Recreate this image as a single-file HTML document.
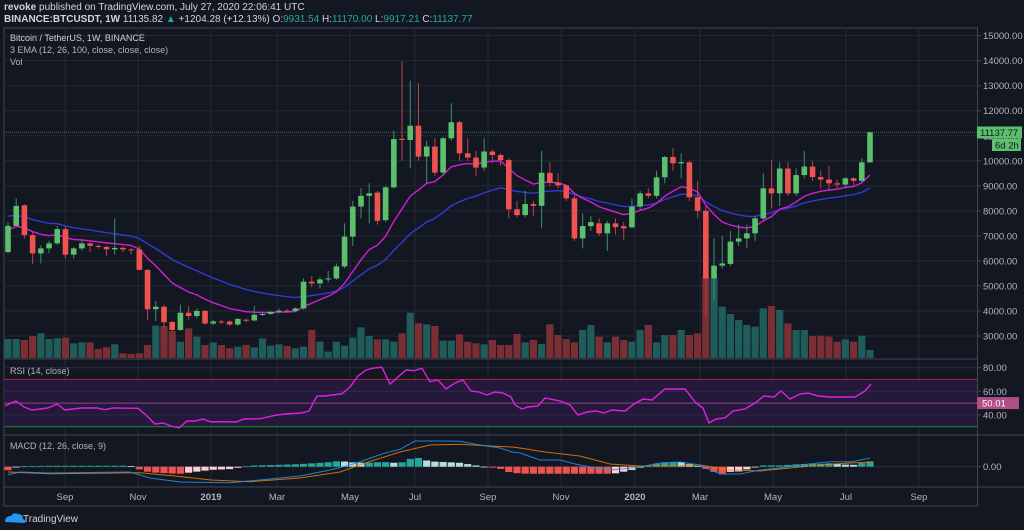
<!DOCTYPE html>
<html><head><meta charset="utf-8">
<style>
html,body{margin:0;padding:0;background:#131722;}
body{width:1024px;height:530px;overflow:hidden;position:relative;font-family:"Liberation Sans",sans-serif;}
svg{position:absolute;left:0;top:0;}
</style></head>
<body>
<svg id="c" width="1024" height="530" xmlns="http://www.w3.org/2000/svg"></svg>
<script>
const S=document.getElementById('c');let out='';
function py(p){return 336-(p-3000)*0.02503;}
const C=[[6350,7550,6300,7400],[7400,8500,7400,8200],[8220,8260,6900,7030],[7030,7150,5880,6300],[6300,6620,5900,6500],[6500,6800,6300,6700],[6700,7400,6650,7270],[7270,7400,6100,6250],[6250,6550,6100,6500],[6500,6800,6400,6700],[6700,6750,6350,6600],[6600,6650,6500,6560],[6560,6600,6200,6460],[6460,7700,6250,6520],[6520,6560,6350,6460],[6460,6500,6250,6450],[6460,6600,5700,5640],[5640,5680,3640,4070],[4070,4400,3600,4170],[4170,4250,3300,3550],[3560,3600,3200,3240],[3240,4250,3200,3930],[3930,4200,3650,3800],[3800,4100,3700,4000],[4000,4050,3450,3500],[3500,3650,3450,3580],[3580,3650,3500,3570],[3580,3620,3400,3460],[3460,3720,3400,3680],[3650,3700,3550,3620],[3620,4200,3600,3850],[3850,3950,3800,3880],[3880,4000,3850,3960],[3960,4100,3900,4010],[4010,4080,3950,4000],[4000,4150,3950,4100],[4100,5300,4050,5170],[5170,5400,4950,5100],[5100,5350,4900,5260],[5260,5600,5150,5300],[5300,5900,5250,5780],[5780,7500,5700,6970],[6970,8400,6600,8170],[8170,8900,7700,8600],[8600,9100,7500,8700],[8730,8800,7450,7600],[7630,9000,7550,8940],[8940,11200,8900,10870],[10880,13970,10000,10830],[10830,13200,9700,11400],[11400,13100,10000,10170],[10170,10800,9100,10570],[10570,10900,9400,9530],[9530,10950,9400,10900],[10900,12300,10800,11540],[11540,11600,10000,10300],[10300,10900,10000,10130],[10130,10400,9400,9730],[9730,10900,9600,10370],[10370,10450,9900,10230],[10230,10300,9800,10030],[10030,10100,7700,8060],[8060,8400,7750,7830],[7830,8800,7750,8270],[8270,8400,7800,8200],[8200,10400,7300,9520],[9520,9950,9000,9130],[9130,9500,8900,9020],[9020,9050,8400,8500],[8500,8600,6800,6900],[6900,7900,6500,7390],[7390,7800,7200,7550],[7500,7700,7000,7100],[7100,7600,6400,7500],[7500,7700,7050,7350],[7390,7550,6850,7300],[7340,8500,7300,8170],[8170,8800,8050,8700],[8700,8900,8500,8600],[8600,9600,8500,9340],[9340,10200,9100,10150],[10150,10500,9600,9900],[9900,10300,9300,9950],[9940,10000,8400,8540],[8540,9200,7700,8000],[8000,8200,3770,5300],[5300,6900,4450,5810],[5810,7000,5700,5900],[5880,7200,5800,6770],[6770,7450,6600,6900],[6900,7450,6500,7100],[7100,7800,6800,7700],[7700,9500,7650,8900],[8900,10050,8100,8700],[8700,9950,8200,9690],[9690,9950,8600,8700],[8700,9700,8600,9430],[9430,10400,9300,9770],[9770,10000,9200,9350],[9350,9600,8900,9250],[9250,9800,8850,9100],[9100,9250,8900,9050],[9050,9350,8950,9300],[9300,9350,9000,9200],[9200,10100,9150,9940],[9940,11170,9917,11137]];
const V=[747,747,750,738,730,747,745,743,760,757,757,777,772,763,790,792,790,765,707,708,723,755,715,740,765,757,765,775,770,765,772,745,767,763,768,775,770,720,755,785,755,767,743,712,738,748,748,755,730,668,700,703,708,752,752,733,755,760,763,750,765,765,732,757,750,762,703,735,747,757,720,705,740,757,740,750,755,720,705,757,735,735,720,735,730,560,565,650,672,690,705,710,655,648,660,700,720,720,738,737,740,755,748,755,737,780];
const N=C.length, sp=862/(N-1); const X=i=>8+i*sp;
const grid='#242833', sep='#434651', txt='#b2b5be';
out+=`<rect x="4" y="28" width="973.5" height="478" fill="none" stroke="${sep}" stroke-width="1"/>`;
const vx=[65,138,211,277,350,415,488,561,635,700,773,846,919];
vx.forEach(x=>out+=`<line x1="${x}" y1="28" x2="${x}" y2="487" stroke="${grid}"/>`);
for(let p=3000;p<=15000;p+=1000){const y=py(p);out+=`<line x1="4" y1="${y}" x2="977" y2="${y}" stroke="${grid}"/><line x1="977" y1="${y}" x2="981" y2="${y}" stroke="${sep}"/><text x="983" y="${y+3.5}" font-size="9.5" fill="${txt}">${p}.00</text>`;}
out+=`<line x1="4" y1="359" x2="977" y2="359" stroke="${sep}"/><line x1="4" y1="435" x2="1024" y2="435" stroke="${sep}"/><line x1="4" y1="487" x2="1024" y2="487" stroke="${sep}"/><line x1="977.5" y1="28" x2="977.5" y2="506" stroke="${sep}"/><line x1="4" y1="506" x2="977" y2="506" stroke="${sep}"/>`;
for(let i=0;i<N;i++){const c=C[i];const up=c[3]>=c[0];const t=90+V[i]/3;out+=`<rect x="${X(i)-3.6}" y="${t}" width="7.2" height="${358-t}" fill="${up?'#1f5c5a':'#7a2f35'}"/>`;}
out+=`<line x1="4" y1="132.3" x2="977" y2="132.3" stroke="#4caf50" stroke-opacity="0.6" stroke-dasharray="1,1"/>`;
function ema(n,seed){const k=2/(n+1);let e=seed;return C.map(c=>{e=c[3]*k+e*(1-k);return e;});}
function pl(arr,col){return `<polyline fill="none" stroke="${col}" stroke-width="1.4" points="${arr.map((v,i)=>X(i).toFixed(1)+','+py(v).toFixed(1)).join(' ')}"/>`;}
out+=pl(ema(26,7820),'#2f3bd6');out+=pl(ema(12,7200),'#d31ed6');
for(let i=0;i<N;i++){const [o,h,l,c]=C[i];const up=c>=o;const col=up?'#5cbf6c':'#ef5350';const x=X(i);
out+=`<line x1="${x}" y1="${py(h)}" x2="${x}" y2="${py(l)}" stroke="${up?'#3e8f70':'#b8434a'}" stroke-width="1"/>`;
const t=py(Math.max(o,c)),b=py(Math.min(o,c));out+=`<rect x="${x-2.8}" y="${t}" width="5.6" height="${Math.max(1,b-t)}" fill="${col}"/>`;}
const ry=v=>367.7+(80-v)*1.18;
out+=`<rect x="4" y="${ry(70)}" width="973" height="${ry(30)-ry(70)}" fill="#25193b"/>`;
[80,60,40].forEach(v=>out+=`<line x1="4" y1="${ry(v)}" x2="977" y2="${ry(v)}" stroke="#2e2a44"/><line x1="977" y1="${ry(v)}" x2="981" y2="${ry(v)}" stroke="${sep}"/><text x="983" y="${ry(v)+3.5}" font-size="9.5" fill="${txt}">${v}.00</text>`);
out+=`<line x1="4" y1="${ry(70)}" x2="977" y2="${ry(70)}" stroke="#a3213a"/><line x1="4" y1="${ry(50)}" x2="977" y2="${ry(50)}" stroke="#8a4a86"/><line x1="4" y1="${ry(30)}" x2="977" y2="${ry(30)}" stroke="#1b8a2c"/>`;
const R=[[5,405.7],[16,401],[24,407],[32,410],[48,408],[57,404],[65,410],[81,408],[97,408],[105,409.7],[113,408],[138,408.3],[146,415],[155,424],[163,423],[171,426],[179,428],[187,421],[195,421],[203,419],[211,422],[219,421.7],[236,422],[244,419],[260,418.7],[277,415],[285,414],[301,413],[309,411],[317,396],[325,396],[342,393.7],[350,387],[358,376],[366,370],[374,368],[382,367.3],[390,384],[398,377],[406,370],[414,370.7],[422,368.3],[430,381.7],[438,380],[446,389],[455,383],[463,380],[471,391],[479,392],[487,395],[495,392],[503,393],[511,397],[515,405],[522,409],[528,407],[538,406],[545,398],[560,401],[570,405],[578,415],[587,412],[596,411],[604,413],[612,410],[625,411],[634,404],[643,399],[652,400],[665,389],[672,389],[685,389],[696,403],[703,408],[709,423],[716,419],[725,418],[733,411],[745,409],[755,403],[764,396],[774,397],[781,391],[790,399],[800,394],[808,393],[818,396],[830,397],[845,397],[855,397],[865,391],[871,384]];
out+=`<polyline fill="none" stroke="#e020e0" stroke-width="1.4" points="${R.map(p=>p.join(',')).join(' ')}"/>`;
out+=`<rect x="977" y="${ry(50)-6}" width="42" height="12" fill="#b04d86"/><text x="982" y="${ry(50)+3.5}" font-size="9.5" fill="#fff">50.01</text>`;
const B=[[8,474.7],[20,472],[50,473],[130,472],[150,478],[180,482],[230,482.7],[270,479],[300,476],[330,470],[350,465],[365,460],[383,453.7],[400,449.3],[415,441],[440,441],[460,441.3],[480,445],[500,448],[512,452],[520,453],[540,460],[560,460],[575,464],[590,467],[610,470],[635,467.7],[660,463],[680,462],[700,465],[720,474],[740,474],[760,470],[780,468],[800,465],[830,461.7],[852,461.7],[870,458]];
const O=[[8,472],[50,473.7],[140,472.7],[175,476],[211,480],[250,481.7],[300,478],[340,472],[365,463],[400,452],[430,445],[460,444.3],[490,446],[512,447],[520,448],[545,452],[580,456],[610,464],[640,466],[670,466],[700,465],[730,470],[760,471],[790,468],[820,465],[850,463],[872,462]];
function interp(a,x){if(x<=a[0][0])return a[0][1];for(let j=1;j<a.length;j++){if(x<=a[j][0]){const t=(x-a[j-1][0])/(a[j][0]-a[j-1][0]);return a[j-1][1]+t*(a[j][1]-a[j-1][1]);}}return a[a.length-1][1];}
const z=466.7;out+=`<line x1="4" y1="${z}" x2="977" y2="${z}" stroke="#2e3240"/><line x1="977" y1="${z}" x2="981" y2="${z}" stroke="${sep}"/><text x="983" y="${z+3.5}" font-size="9.5" fill="${txt}">0.00</text>`;
let prev=0;for(let i=0;i<N;i++){const x=X(i);let h=(interp(O,x)-interp(B,x))*1.3;h=Math.max(-7,Math.min(11,h));let col;if(h>=0)col=h>=prev?'#26a69a':'#b2dfdb';else col=h<=prev?'#ef5350':'#ffcdd2';prev=h;
const y=h>=0?z-h:z;out+=`<rect x="${x-3.6}" y="${y}" width="7.2" height="${Math.max(0.8,Math.abs(h))}" fill="${col}"/>`;}
out+=`<polyline fill="none" stroke="#f57c00" stroke-opacity="0.85" stroke-width="1" points="${O.map(p=>p.join(',')).join(' ')}"/>`;
out+=`<polyline fill="none" stroke="#2196f3" stroke-opacity="0.85" stroke-width="1" points="${B.map(p=>p.join(',')).join(' ')}"/>`;
const tl=[[65,'Sep'],[138,'Nov'],[211,'2019'],[277,'Mar'],[350,'May'],[415,'Jul'],[488,'Sep'],[561,'Nov'],[635,'2020'],[700,'Mar'],[773,'May'],[846,'Jul'],[919,'Sep']];
tl.forEach(t=>out+=`<text x="${t[0]}" y="500" font-size="9.5" fill="${txt}" text-anchor="middle" ${t[1].length==4?'font-weight="bold"':''}>${t[1]}</text>`);
out+=`<rect x="977" y="126.5" width="45" height="12" fill="#5cbf6c"/><text x="980" y="135.8" font-size="9.5" fill="#131722">11137.77</text>`;
out+=`<rect x="992" y="139" width="29" height="12" fill="#5cbf6c"/><text x="995" y="148.3" font-size="9.5" fill="#131722">6d 2h</text>`;
out+=`<text x="4" y="10" font-size="10" fill="#d1d4dc"><tspan font-weight="bold">revoke</tspan> published on TradingView.com, July 27, 2020 22:06:41 UTC</text>`;
out+=`<text x="4" y="22" font-size="10" fill="#d1d4dc"><tspan font-weight="bold">BINANCE:BTCUSDT, 1W</tspan>  11135.82 <tspan fill="#26a69a">▲</tspan> +1204.28 (+12.13%) O:<tspan fill="#26a69a">9931.54</tspan> H:<tspan fill="#26a69a">11170.00</tspan> L:<tspan fill="#26a69a">9917.21</tspan> C:<tspan fill="#26a69a">11137.77</tspan></text>`;
out+=`<text x="10" y="41" font-size="9" fill="#d1d4dc">Bitcoin / TetherUS, 1W, BINANCE</text><text x="10" y="53" font-size="9" fill="#b2b5be">3 EMA (12, 26, 100, close, close, close)</text><text x="10" y="65" font-size="9" fill="#b2b5be">Vol</text>`;
out+=`<text x="10" y="374" font-size="9" fill="#b2b5be">RSI (14, close)</text><text x="10" y="449" font-size="9" fill="#b2b5be">MACD (12, 26, close, 9)</text>`;
out+=`<path d="M5 522 q0 -6 6 -6 q2 -4 7 -2 q5 0 5 5 q3 1 2 4 z" fill="#2196f3"/><text x="23" y="522" font-size="10" fill="#d1d4dc">TradingView</text>`;
S.innerHTML=out;
</script>
</body></html>
